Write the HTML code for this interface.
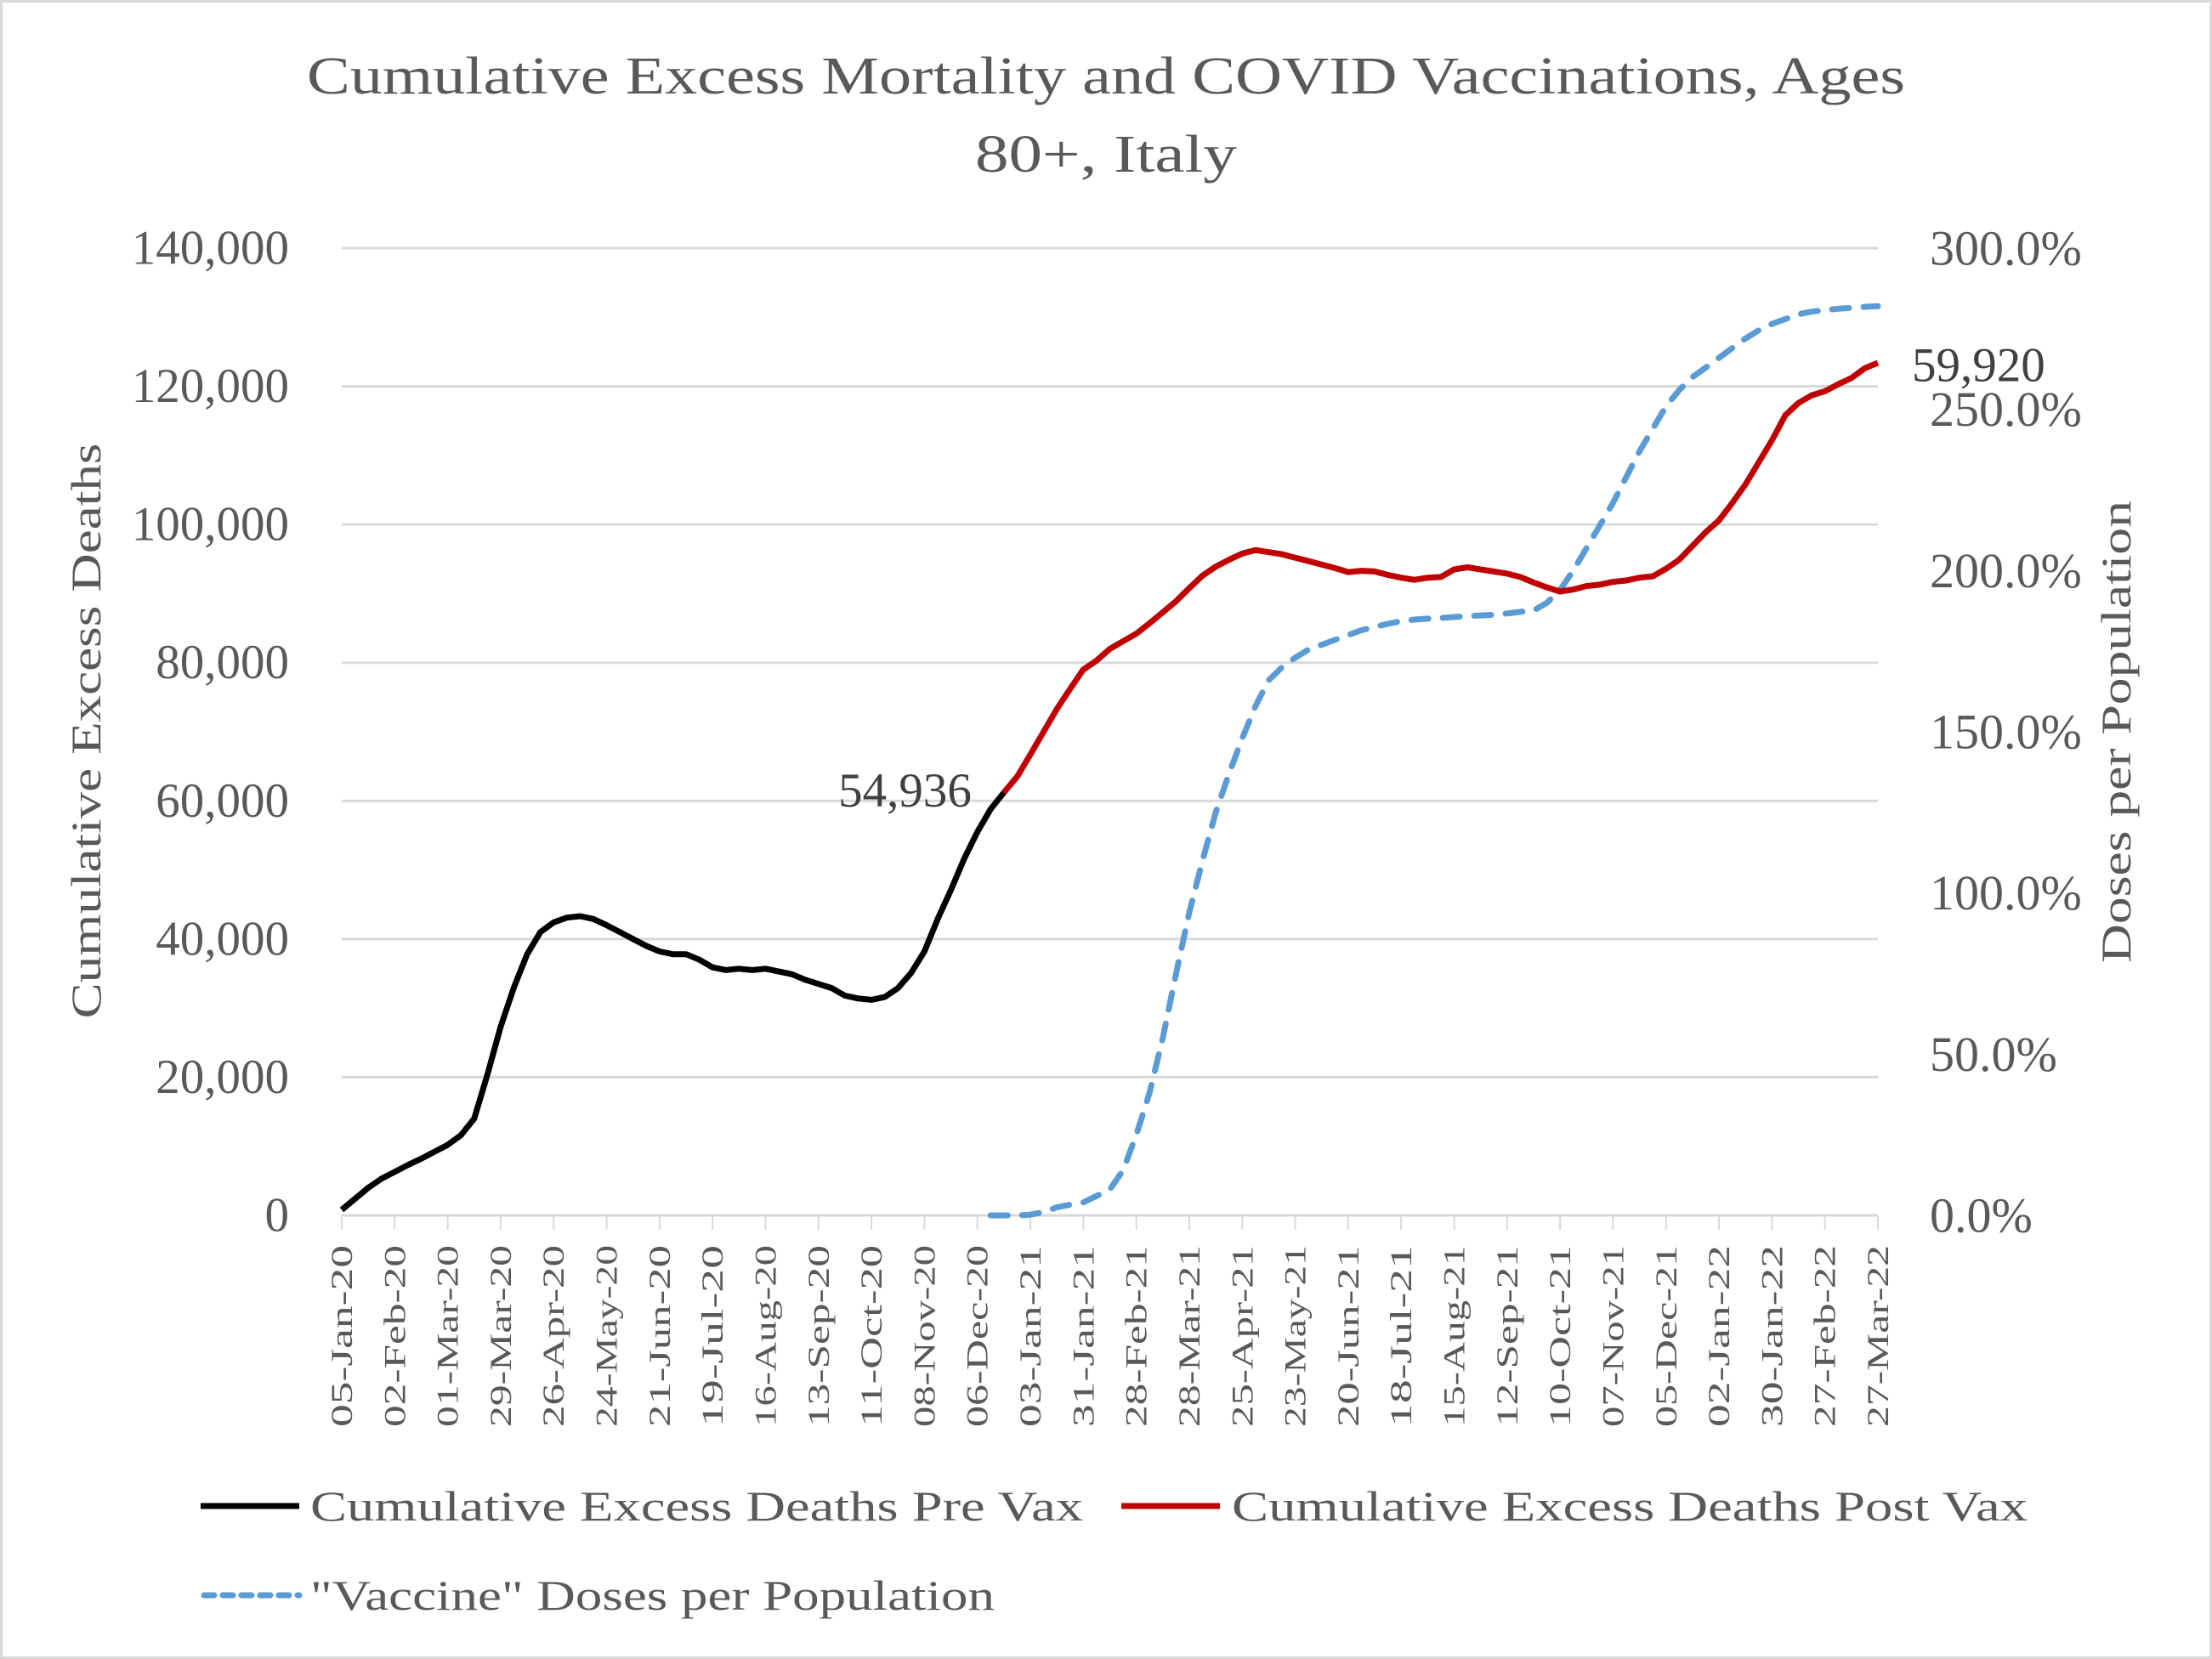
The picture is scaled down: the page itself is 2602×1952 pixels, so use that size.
<!DOCTYPE html>
<html><head><meta charset="utf-8">
<style>
html,body{margin:0;padding:0;background:#fff;}
svg{display:block;font-family:"Liberation Serif",serif;}
</style></head>
<body>
<svg id="chart" width="2602" height="1952" viewBox="0 0 2602 1952" xmlns="http://www.w3.org/2000/svg">
<rect x="1.5" y="1.5" width="2599" height="1949" fill="#fff" stroke="#d9d9d9" stroke-width="3"/>
<g fill="#595959" font-size="62" text-anchor="middle">
<text x="1301" y="110" textLength="1880" lengthAdjust="spacingAndGlyphs">Cumulative Excess Mortality and COVID Vaccinations, Ages</text>
<text x="1301" y="202" textLength="308" lengthAdjust="spacingAndGlyphs">80+, Italy</text>
</g>
<g id="grid"></g>
<g id="yleft"></g>
<g id="yright"></g>
<g id="xaxis"></g>
<g id="series"></g>
<text transform="translate(118,860) rotate(-90)" text-anchor="middle" font-size="50" fill="#595959" textLength="677" lengthAdjust="spacingAndGlyphs">Cumulative Excess Deaths</text>
<text transform="translate(2506,861) rotate(-90)" text-anchor="middle" font-size="50" fill="#595959" textLength="544" lengthAdjust="spacingAndGlyphs">Doses per Population</text>
<g font-size="50" fill="#595959">
<line x1="236" y1="1772" x2="352" y2="1772" stroke="#000" stroke-width="7"/>
<text x="365" y="1789" textLength="909" lengthAdjust="spacingAndGlyphs">Cumulative Excess Deaths Pre Vax</text>
<line x1="1319" y1="1772" x2="1435" y2="1772" stroke="#c00000" stroke-width="7"/>
<text x="1449" y="1789" textLength="936" lengthAdjust="spacingAndGlyphs">Cumulative Excess Deaths Post Vax</text>
<line x1="240" y1="1877" x2="352" y2="1877" stroke="#5b9bd5" stroke-width="7" stroke-dasharray="12,10" stroke-linecap="round"/>
<text x="365" y="1894" textLength="805" lengthAdjust="spacingAndGlyphs">"Vaccine" Doses per Population</text>
</g>
</svg>
<script>
const xLabels = ["05-Jan-20","02-Feb-20","01-Mar-20","29-Mar-20","26-Apr-20","24-May-20","21-Jun-20","19-Jul-20","16-Aug-20","13-Sep-20","11-Oct-20","08-Nov-20","06-Dec-20","03-Jan-21","31-Jan-21","28-Feb-21","28-Mar-21","25-Apr-21","23-May-21","20-Jun-21","18-Jul-21","15-Aug-21","12-Sep-21","10-Oct-21","07-Nov-21","05-Dec-21","02-Jan-22","30-Jan-22","27-Feb-22","27-Mar-22"];
const leftTicks = [0,20000,40000,60000,80000,100000,120000,140000];
const rightTicks = [0,50,100,150,200,250,300];
const preStart = 0;
const preVax = [800,2400,4000,5300,6300,7300,8200,9200,10200,11600,14000,20400,27300,33000,37800,41000,42400,43100,43300,42900,42000,41000,40000,39000,38200,37800,37800,37000,35900,35500,35700,35500,35700,35300,34900,34100,33500,32900,31800,31400,31200,31600,32900,35100,38200,42900,47100,51600,55500,58800,61200];
const postStart = 50;
const postVax = [61200,63500,66700,70000,73300,76200,79000,80300,82000,83100,84200,85700,87300,88900,90800,92600,93900,94900,95800,96300,96000,95700,95200,94700,94200,93700,93100,93300,93200,92700,92300,92000,92300,92400,93500,93800,93500,93200,92900,92400,91600,90900,90300,90600,91100,91300,91700,91900,92300,92500,93600,94900,96900,98900,100600,103100,105800,109000,112200,115800,117600,118700,119300,120300,121200,122600,123400];
const vaxStart = 49;
const vaxPct = [0,0,0,0.2,1,2.5,3.3,4,6,8,14,25,38,55,75,94,110,125,137,148,158,166,170,173,175.5,177,178.5,180,181.5,182.5,183.5,184.3,184.8,185.1,185.3,185.6,185.9,186.1,186.3,186.7,187.2,187.6,190,194,200,207,214,221,229,237,244,251,256,260,263,266,269,272,274.5,276.5,278,279.5,280.3,280.8,281.2,281.5,281.8,282];
const preLabel = "54,936";
const postLabel = "59,920";

const NS = "http://www.w3.org/2000/svg";
const X0 = 402, X1 = 2209, Y0 = 1430, Y1 = 292, NW = 116;
const xs = i => X0 + i * (X1 - X0) / NW;
const yL = v => Y0 - v / 140000 * (Y0 - Y1);
const yR = p => Y0 - p / 300 * (Y0 - Y1);
function mk(tag, attrs, parent) {
  const e = document.createElementNS(NS, tag);
  for (const k in attrs) e.setAttribute(k, attrs[k]);
  parent.appendChild(e);
  return e;
}
const grid = document.getElementById('grid');
const yleft = document.getElementById('yleft');
const yright = document.getElementById('yright');
const xaxis = document.getElementById('xaxis');
const series = document.getElementById('series');

leftTicks.forEach(v => {
  const g = mk('line', {x1: X0, x2: X1, y1: yL(v), y2: yL(v), stroke: '#d9d9d9', 'stroke-width': 3}, grid);
  
  
  const t = mk('text', {x: 340, y: yL(v), 'text-anchor': 'end', 'dominant-baseline': 'central', 'font-size': 57, fill: '#595959'}, yleft);
  t.textContent = v.toLocaleString('en-US');
  
  
});
rightTicks.forEach(p => {
  const t = mk('text', {x: 2270, y: yR(p), 'dominant-baseline': 'central', 'font-size': 58, fill: '#595959'}, yright);
  t.textContent = p.toFixed(1) + '%';
  
  
});
xLabels.forEach((lab, k) => {
  const x = xs(k * 4);
  const tk = mk('line', {x1: x, x2: x, y1: Y0, y2: Y0 + 17, stroke: '#d9d9d9', 'stroke-width': 2}, xaxis);
  
  
  const t = mk('text', {transform: `translate(${x},1465) rotate(-90)`, 'text-anchor': 'end', 'dominant-baseline': 'central', 'font-size': 36, fill: '#595959', textLength: 214, lengthAdjust: 'spacingAndGlyphs'}, xaxis);
  t.textContent = lab;
  
  
});

function path(arr, start, yf) {
  return arr.map((v, j) => (j ? 'L' : 'M') + xs(start + j).toFixed(1) + ',' + yf(v).toFixed(1)).join('');
}
const pVax = mk('path', {d: path(vaxPct, vaxStart, yR), fill: 'none', stroke: '#5b9bd5', 'stroke-width': 7, 'stroke-dasharray': '20,17', 'stroke-linecap': 'round', 'stroke-linejoin': 'round'}, series);


const pPre = mk('path', {d: path(preVax, preStart, yL), fill: 'none', stroke: '#000', 'stroke-width': 7, 'stroke-linejoin': 'round'}, series);


const pPost = mk('path', {d: path(postVax, postStart, yL), fill: 'none', stroke: '#c00000', 'stroke-width': 7, 'stroke-linejoin': 'round'}, series);



const lastPre = preVax[preVax.length - 1];
const l1 = mk('text', {x: xs(preStart + preVax.length - 1) - 38, y: yL(lastPre) - 2, 'text-anchor': 'end', 'dominant-baseline': 'central', 'font-size': 57, fill: '#404040'}, series);
l1.textContent = preLabel;


const lastPost = postVax[postVax.length - 1];
const l2 = mk('text', {x: xs(postStart + postVax.length - 1) + 40, y: yL(lastPost) + 3, 'dominant-baseline': 'central', 'font-size': 57, fill: '#404040'}, series);
l2.textContent = postLabel;


</script>
</body></html>
